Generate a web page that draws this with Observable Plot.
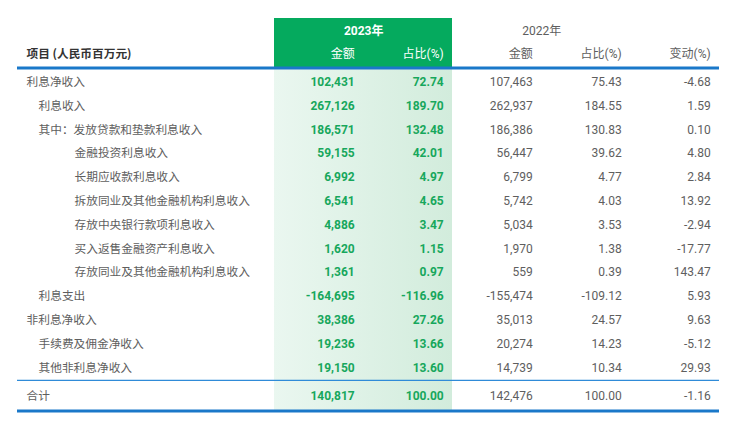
<!DOCTYPE html>
<html><head><meta charset="utf-8">
<script src="https://cdn.jsdelivr.net/npm/d3@7"></script>
<script src="https://cdn.jsdelivr.net/npm/@observablehq/plot@0.6"></script>
<style>body{margin:0;background:#fff;}</style>
</head><body><div id="chart"></div>
<script>
// ---- data ----
const items = ["利息净收入","利息收入","其中：发放贷款和垫款利息收入","金融投资利息收入","长期应收款利息收入","拆放同业及其他金融机构利息收入","存放中央银行款项利息收入","买入返售金融资产利息收入","存放同业及其他金融机构利息收入","利息支出","非利息净收入","手续费及佣金净收入","其他非利息净收入","合计"];
const levels = [0,1,1,2,2,2,2,2,2,1,0,1,1,0];
const amount2023 = [102431,267126,186571,59155,6992,6541,4886,1620,1361,-164695,38386,19236,19150,140817];
const share2023 = [72.74,189.70,132.48,42.01,4.97,4.65,3.47,1.15,0.97,-116.96,27.26,13.66,13.60,100.00];
const amount2022 = [107463,262937,186386,56447,6799,5742,5034,1970,559,-155474,35013,20274,14739,142476];
const share2022 = [75.43,184.55,130.83,39.62,4.77,4.03,3.53,1.38,0.39,-109.12,24.57,14.23,10.34,100.00];
const change = [-4.68,1.59,0.10,4.80,2.84,13.92,-2.94,-17.77,143.47,5.93,9.63,-5.12,29.93,-1.16];
const columns = ["amt23","pct23","amt22","pct22","chg"];
const headerCols = ["金额","占比(%)","金额","占比(%)","变动(%)"];
const yearLabels = ["2023年","2022年"];
const stubHeader = "项目 (人民币百万元)";

// ---- table building ----
const loc = d3.formatLocale({decimal:".", thousands:",", grouping:[3], currency:["",""], minus:"-"});
const fInt = loc.format(",");
const fPct = loc.format(".2f");
const rows = items.map((label, i) => ({label, level: levels[i], i,
  amt23: amount2023[i], pct23: share2023[i], amt22: amount2022[i], pct22: share2022[i], chg: change[i]}));
const fmt = {amt23: fInt, pct23: fPct, amt22: fInt, pct22: fPct, chg: fPct};
const cells = rows.flatMap(r => columns.map(c => ({row: r.i, col: c, text: fmt[c](r[c])})));
const rowY = d => d.row === items.length - 1 ? d.row + 0.19 : d.row;

const GREEN = "#05aa5e", TEXTG = "#17a75c", GRAY = "#5e5e5e", BLUE = "#1a78c9";
const CJK = "'Noto Sans CJK SC', sans-serif";
const NUM = "Roboto, 'Noto Sans CJK SC', sans-serif";
const bw = (720 - 273) / columns.length;
const yHead1 = -2.15, yHead2 = -1.19, yTop = -0.6, yBottom = 13.81, yThin = 12.53, yBoxTop = -2.68;

const chart = Plot.plot({
  width: 740, height: 444, margin: 0,
  style: {background: "#fff", fontFamily: CJK},
  x: {type: "band", domain: columns, range: [273, 720], padding: 0, axis: null},
  y: {type: "linear", domain: [0, 12], range: [81.7, 367.3], axis: null},
  marks: [
    // tinted 2023 column
    Plot.barY(columns.slice(0, 2), {x: d => d, y1: yTop, y2: yBottom, fill: "url(#tint2023)", shapeRendering: "crispEdges"}),
    // green header
    Plot.barY(columns.slice(0, 2), {x: d => d, y1: yBoxTop, y2: yTop, fill: GREEN, shapeRendering: "crispEdges"}),
    // rules
    Plot.ruleY([yTop, yBottom], {stroke: BLUE, strokeWidth: 3, insetLeft: 17, insetRight: 21}),
    Plot.ruleY([yThin], {stroke: "#2f8bd8", strokeWidth: 1.2, insetLeft: 17, insetRight: 21}),
    // header texts
    Plot.text([yearLabels[0]], {x: () => "amt23", y: yHead1, text: d => d, dx: bw / 2, textAnchor: "middle", fill: "#fff", fontWeight: "bold", fontSize: 12, fontFamily: NUM}),
    Plot.text([yearLabels[1]], {x: () => "amt22", y: yHead1, text: d => d, dx: bw / 2, textAnchor: "middle", fill: GRAY, fontSize: 12, fontFamily: NUM}),
    Plot.text(columns, {x: d => d, y: yHead2, text: (d, i) => headerCols[i], dx: bw / 2 - 9, textAnchor: "end",
      fill: (d, i) => i < 2 ? "#fff" : GRAY, fontSize: 12, fontFamily: NUM}),
    Plot.text([stubHeader], {frameAnchor: "left", y: yHead2, text: d => d, dx: 26, fill: "#333", fontWeight: "bold", fontSize: 11.7}),
    // row labels
    Plot.text(rows.filter(r => r.level === 0), {frameAnchor: "left", y: d => rowY({row: d.i}), text: "label", dx: 26, fill: GRAY, fontSize: 11.7}),
    Plot.text(rows.filter(r => r.level === 1), {frameAnchor: "left", y: d => rowY({row: d.i}), text: "label", dx: 38, fill: GRAY, fontSize: 11.7}),
    Plot.text(rows.filter(r => r.level === 2), {frameAnchor: "left", y: d => rowY({row: d.i}), text: "label", dx: 74, fill: GRAY, fontSize: 11.7}),
    // values
    Plot.text(cells.filter(c => c.col === "amt23" || c.col === "pct23"), {x: "col", y: rowY, text: "text", dx: bw / 2 - 9, textAnchor: "end", fill: TEXTG, fontWeight: "bold", fontSize: 12, fontFamily: NUM}),
    Plot.text(cells.filter(c => c.col !== "amt23" && c.col !== "pct23"), {x: "col", y: rowY, text: "text", dx: bw / 2 - 9, textAnchor: "end", fill: GRAY, fontSize: 12, fontFamily: NUM})
  ]
});

// gradient for the 2023 column tint
const xs = chart.scale("x");
const gx1 = xs.apply("amt23"), gx2 = xs.apply("pct23") + xs.bandwidth;
const ns = "http://www.w3.org/2000/svg";
const defs = document.createElementNS(ns, "defs");
const grad = document.createElementNS(ns, "linearGradient");
grad.setAttribute("id", "tint2023");
grad.setAttribute("gradientUnits", "userSpaceOnUse");
grad.setAttribute("x1", gx1); grad.setAttribute("x2", gx2);
grad.setAttribute("y1", 0); grad.setAttribute("y2", 0);
[["0", "#eaf7f0"], ["1", "#d2ecdc"]].forEach(([o, c]) => {
  const s = document.createElementNS(ns, "stop");
  s.setAttribute("offset", o); s.setAttribute("stop-color", c);
  grad.appendChild(s);
});
defs.appendChild(grad);
chart.insertBefore(defs, chart.firstChild);
document.getElementById("chart").appendChild(chart);
</script>
</body></html>
